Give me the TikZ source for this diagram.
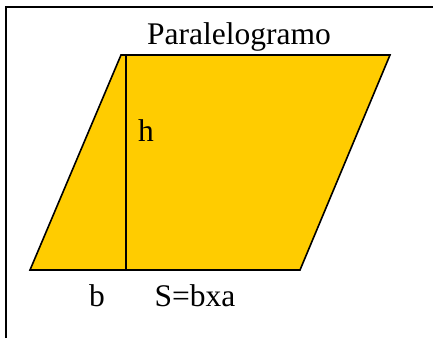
\documentclass[tikz,border=0pt]{standalone}
\usepackage{fontspec}
\setmainfont{Liberation Serif}
\usepackage{tikz}
\usetikzlibrary{positioning}
\definecolor{amarelo}{HTML}{FFCC00}
\tikzset{rotulo/.style={inner sep=0pt,font=\fontsize{31.5}{36}\selectfont}}

\begin{document}
\begin{tikzpicture}[x=1pt,y=-1pt,line width=1.6pt]
\useasboundingbox (0,0) rectangle (433,338);
\draw (6,338)--(6,7)--(433,7);
\coordinate (A) at (30,270);
\coordinate (B) at (300,270);
\coordinate (C) at (390,55);
\coordinate (D) at (121,55);
\coordinate (topo) at (126,55);
\coordinate (pe) at (126,270);
\filldraw[fill=amarelo,line join=miter] (A)--(B)--(C)--(D)--cycle;
\draw (topo)--(pe);
\node[rotulo] (titulo) at (239,37) {Paralelogramo};
\node[rotulo] (altura) at (146,131) {h};
\node[rotulo] (base) at (97,296) {b};
\node[rotulo] (area) at (195,296) {S=bxa};
\end{tikzpicture}
\end{document}
